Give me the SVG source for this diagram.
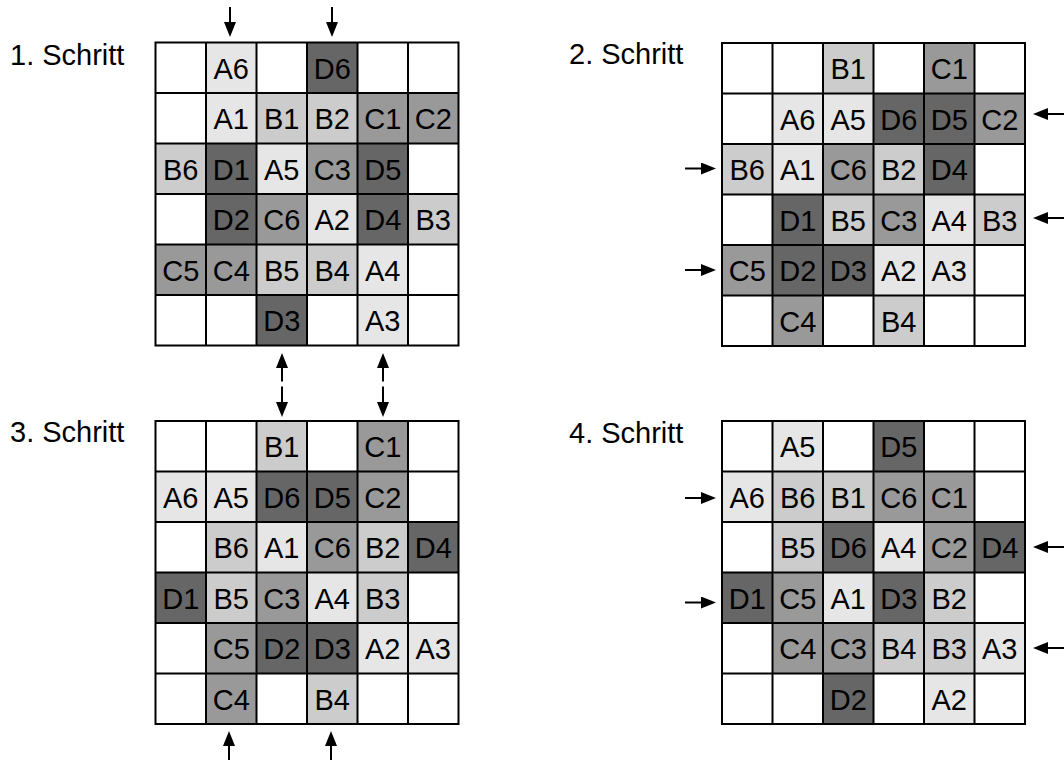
<svg xmlns="http://www.w3.org/2000/svg" xmlns:xlink="http://www.w3.org/1999/xlink" width="1064" height="760" viewBox="0 0 1064 760">
<defs>
<style>
.a{fill:#e6e6e6}.b{fill:#cccccc}.c{fill:#999999}.d{fill:#666666}
text{font-family:"Liberation Sans",Arial,sans-serif;font-size:29px;fill:#000}
.t{text-anchor:middle}
.ln{stroke:#000;stroke-width:2;fill:none}
.ar{stroke:#000;stroke-width:2;fill:none}
.dash{stroke-dasharray:13.5 5 40}
</style>
<marker id="ah" viewBox="0 0 15 12" refX="0" refY="6" markerWidth="15" markerHeight="12" markerUnits="userSpaceOnUse" orient="auto-start-reverse"><path d="M0,0 L15,6 L0,12 z" fill="#000"/></marker>
<path id="grid" class="ln" d="M0,0H303V303H0Z M50.5,0V303 M101,0V303 M151.5,0V303 M202,0V303 M252.5,0V303 M0,50.5H303 M0,101H303 M0,151.5H303 M0,202H303 M0,252.5H303"/>
</defs>
<rect width="1064" height="760" fill="#fff"/>

<g id="labels">
<text x="10" y="65">1. Schritt</text>
<text x="569" y="64">2. Schritt</text>
<text x="10" y="442">3. Schritt</text>
<text x="569" y="443">4. Schritt</text>
</g>

<g id="step1" transform="translate(155.5,42.5)">
<g id="s1-A6"><rect class="a" x="50.5" y="0" width="50.5" height="50.5"/><text class="t" x="75.75" y="36">A6</text></g>
<g id="s1-D6"><rect class="d" x="151.5" y="0" width="50.5" height="50.5"/><text class="t" x="176.75" y="36">D6</text></g>
<g id="s1-A1"><rect class="a" x="50.5" y="50.5" width="50.5" height="50.5"/><text class="t" x="75.75" y="86.5">A1</text></g>
<g id="s1-B1"><rect class="b" x="101" y="50.5" width="50.5" height="50.5"/><text class="t" x="126.25" y="86.5">B1</text></g>
<g id="s1-B2"><rect class="b" x="151.5" y="50.5" width="50.5" height="50.5"/><text class="t" x="176.75" y="86.5">B2</text></g>
<g id="s1-C1"><rect class="c" x="202" y="50.5" width="50.5" height="50.5"/><text class="t" x="227.25" y="86.5">C1</text></g>
<g id="s1-C2"><rect class="c" x="252.5" y="50.5" width="50.5" height="50.5"/><text class="t" x="277.75" y="86.5">C2</text></g>
<g id="s1-B6"><rect class="b" x="0" y="101" width="50.5" height="50.5"/><text class="t" x="25.25" y="137">B6</text></g>
<g id="s1-D1"><rect class="d" x="50.5" y="101" width="50.5" height="50.5"/><text class="t" x="75.75" y="137">D1</text></g>
<g id="s1-A5"><rect class="a" x="101" y="101" width="50.5" height="50.5"/><text class="t" x="126.25" y="137">A5</text></g>
<g id="s1-C3"><rect class="c" x="151.5" y="101" width="50.5" height="50.5"/><text class="t" x="176.75" y="137">C3</text></g>
<g id="s1-D5"><rect class="d" x="202" y="101" width="50.5" height="50.5"/><text class="t" x="227.25" y="137">D5</text></g>
<g id="s1-D2"><rect class="d" x="50.5" y="151.5" width="50.5" height="50.5"/><text class="t" x="75.75" y="187.5">D2</text></g>
<g id="s1-C6"><rect class="c" x="101" y="151.5" width="50.5" height="50.5"/><text class="t" x="126.25" y="187.5">C6</text></g>
<g id="s1-A2"><rect class="a" x="151.5" y="151.5" width="50.5" height="50.5"/><text class="t" x="176.75" y="187.5">A2</text></g>
<g id="s1-D4"><rect class="d" x="202" y="151.5" width="50.5" height="50.5"/><text class="t" x="227.25" y="187.5">D4</text></g>
<g id="s1-B3"><rect class="b" x="252.5" y="151.5" width="50.5" height="50.5"/><text class="t" x="277.75" y="187.5">B3</text></g>
<g id="s1-C5"><rect class="c" x="0" y="202" width="50.5" height="50.5"/><text class="t" x="25.25" y="238">C5</text></g>
<g id="s1-C4"><rect class="c" x="50.5" y="202" width="50.5" height="50.5"/><text class="t" x="75.75" y="238">C4</text></g>
<g id="s1-B5"><rect class="b" x="101" y="202" width="50.5" height="50.5"/><text class="t" x="126.25" y="238">B5</text></g>
<g id="s1-B4"><rect class="b" x="151.5" y="202" width="50.5" height="50.5"/><text class="t" x="176.75" y="238">B4</text></g>
<g id="s1-A4"><rect class="a" x="202" y="202" width="50.5" height="50.5"/><text class="t" x="227.25" y="238">A4</text></g>
<g id="s1-D3"><rect class="d" x="101" y="252.5" width="50.5" height="50.5"/><text class="t" x="126.25" y="288.5">D3</text></g>
<g id="s1-A3"><rect class="a" x="202" y="252.5" width="50.5" height="50.5"/><text class="t" x="227.25" y="288.5">A3</text></g>
<use xlink:href="#grid" href="#grid"/>
</g>

<g id="step2" transform="translate(722,43)">
<g id="s2-B1"><rect class="b" x="101" y="0" width="50.5" height="50.5"/><text class="t" x="126.25" y="36">B1</text></g>
<g id="s2-C1"><rect class="c" x="202" y="0" width="50.5" height="50.5"/><text class="t" x="227.25" y="36">C1</text></g>
<g id="s2-A6"><rect class="a" x="50.5" y="50.5" width="50.5" height="50.5"/><text class="t" x="75.75" y="86.5">A6</text></g>
<g id="s2-A5"><rect class="a" x="101" y="50.5" width="50.5" height="50.5"/><text class="t" x="126.25" y="86.5">A5</text></g>
<g id="s2-D6"><rect class="d" x="151.5" y="50.5" width="50.5" height="50.5"/><text class="t" x="176.75" y="86.5">D6</text></g>
<g id="s2-D5"><rect class="d" x="202" y="50.5" width="50.5" height="50.5"/><text class="t" x="227.25" y="86.5">D5</text></g>
<g id="s2-C2"><rect class="c" x="252.5" y="50.5" width="50.5" height="50.5"/><text class="t" x="277.75" y="86.5">C2</text></g>
<g id="s2-B6"><rect class="b" x="0" y="101" width="50.5" height="50.5"/><text class="t" x="25.25" y="137">B6</text></g>
<g id="s2-A1"><rect class="a" x="50.5" y="101" width="50.5" height="50.5"/><text class="t" x="75.75" y="137">A1</text></g>
<g id="s2-C6"><rect class="c" x="101" y="101" width="50.5" height="50.5"/><text class="t" x="126.25" y="137">C6</text></g>
<g id="s2-B2"><rect class="b" x="151.5" y="101" width="50.5" height="50.5"/><text class="t" x="176.75" y="137">B2</text></g>
<g id="s2-D4"><rect class="d" x="202" y="101" width="50.5" height="50.5"/><text class="t" x="227.25" y="137">D4</text></g>
<g id="s2-D1"><rect class="d" x="50.5" y="151.5" width="50.5" height="50.5"/><text class="t" x="75.75" y="187.5">D1</text></g>
<g id="s2-B5"><rect class="b" x="101" y="151.5" width="50.5" height="50.5"/><text class="t" x="126.25" y="187.5">B5</text></g>
<g id="s2-C3"><rect class="c" x="151.5" y="151.5" width="50.5" height="50.5"/><text class="t" x="176.75" y="187.5">C3</text></g>
<g id="s2-A4"><rect class="a" x="202" y="151.5" width="50.5" height="50.5"/><text class="t" x="227.25" y="187.5">A4</text></g>
<g id="s2-B3"><rect class="b" x="252.5" y="151.5" width="50.5" height="50.5"/><text class="t" x="277.75" y="187.5">B3</text></g>
<g id="s2-C5"><rect class="c" x="0" y="202" width="50.5" height="50.5"/><text class="t" x="25.25" y="238">C5</text></g>
<g id="s2-D2"><rect class="d" x="50.5" y="202" width="50.5" height="50.5"/><text class="t" x="75.75" y="238">D2</text></g>
<g id="s2-D3"><rect class="d" x="101" y="202" width="50.5" height="50.5"/><text class="t" x="126.25" y="238">D3</text></g>
<g id="s2-A2"><rect class="a" x="151.5" y="202" width="50.5" height="50.5"/><text class="t" x="176.75" y="238">A2</text></g>
<g id="s2-A3"><rect class="a" x="202" y="202" width="50.5" height="50.5"/><text class="t" x="227.25" y="238">A3</text></g>
<g id="s2-C4"><rect class="c" x="50.5" y="252.5" width="50.5" height="50.5"/><text class="t" x="75.75" y="288.5">C4</text></g>
<g id="s2-B4"><rect class="b" x="151.5" y="252.5" width="50.5" height="50.5"/><text class="t" x="176.75" y="288.5">B4</text></g>
<use xlink:href="#grid" href="#grid"/>
</g>

<g id="step3" transform="translate(155.5,421)">
<g id="s3-B1"><rect class="b" x="101" y="0" width="50.5" height="50.5"/><text class="t" x="126.25" y="36">B1</text></g>
<g id="s3-C1"><rect class="c" x="202" y="0" width="50.5" height="50.5"/><text class="t" x="227.25" y="36">C1</text></g>
<g id="s3-A6"><rect class="a" x="0" y="50.5" width="50.5" height="50.5"/><text class="t" x="25.25" y="86.5">A6</text></g>
<g id="s3-A5"><rect class="a" x="50.5" y="50.5" width="50.5" height="50.5"/><text class="t" x="75.75" y="86.5">A5</text></g>
<g id="s3-D6"><rect class="d" x="101" y="50.5" width="50.5" height="50.5"/><text class="t" x="126.25" y="86.5">D6</text></g>
<g id="s3-D5"><rect class="d" x="151.5" y="50.5" width="50.5" height="50.5"/><text class="t" x="176.75" y="86.5">D5</text></g>
<g id="s3-C2"><rect class="c" x="202" y="50.5" width="50.5" height="50.5"/><text class="t" x="227.25" y="86.5">C2</text></g>
<g id="s3-B6"><rect class="b" x="50.5" y="101" width="50.5" height="50.5"/><text class="t" x="75.75" y="137">B6</text></g>
<g id="s3-A1"><rect class="a" x="101" y="101" width="50.5" height="50.5"/><text class="t" x="126.25" y="137">A1</text></g>
<g id="s3-C6"><rect class="c" x="151.5" y="101" width="50.5" height="50.5"/><text class="t" x="176.75" y="137">C6</text></g>
<g id="s3-B2"><rect class="b" x="202" y="101" width="50.5" height="50.5"/><text class="t" x="227.25" y="137">B2</text></g>
<g id="s3-D4"><rect class="d" x="252.5" y="101" width="50.5" height="50.5"/><text class="t" x="277.75" y="137">D4</text></g>
<g id="s3-D1"><rect class="d" x="0" y="151.5" width="50.5" height="50.5"/><text class="t" x="25.25" y="187.5">D1</text></g>
<g id="s3-B5"><rect class="b" x="50.5" y="151.5" width="50.5" height="50.5"/><text class="t" x="75.75" y="187.5">B5</text></g>
<g id="s3-C3"><rect class="c" x="101" y="151.5" width="50.5" height="50.5"/><text class="t" x="126.25" y="187.5">C3</text></g>
<g id="s3-A4"><rect class="a" x="151.5" y="151.5" width="50.5" height="50.5"/><text class="t" x="176.75" y="187.5">A4</text></g>
<g id="s3-B3"><rect class="b" x="202" y="151.5" width="50.5" height="50.5"/><text class="t" x="227.25" y="187.5">B3</text></g>
<g id="s3-C5"><rect class="c" x="50.5" y="202" width="50.5" height="50.5"/><text class="t" x="75.75" y="238">C5</text></g>
<g id="s3-D2"><rect class="d" x="101" y="202" width="50.5" height="50.5"/><text class="t" x="126.25" y="238">D2</text></g>
<g id="s3-D3"><rect class="d" x="151.5" y="202" width="50.5" height="50.5"/><text class="t" x="176.75" y="238">D3</text></g>
<g id="s3-A2"><rect class="a" x="202" y="202" width="50.5" height="50.5"/><text class="t" x="227.25" y="238">A2</text></g>
<g id="s3-A3"><rect class="a" x="252.5" y="202" width="50.5" height="50.5"/><text class="t" x="277.75" y="238">A3</text></g>
<g id="s3-C4"><rect class="c" x="50.5" y="252.5" width="50.5" height="50.5"/><text class="t" x="75.75" y="288.5">C4</text></g>
<g id="s3-B4"><rect class="b" x="151.5" y="252.5" width="50.5" height="50.5"/><text class="t" x="176.75" y="288.5">B4</text></g>
<use xlink:href="#grid" href="#grid"/>
</g>

<g id="step4" transform="translate(722,421)">
<g id="s4-A5"><rect class="a" x="50.5" y="0" width="50.5" height="50.5"/><text class="t" x="75.75" y="36">A5</text></g>
<g id="s4-D5"><rect class="d" x="151.5" y="0" width="50.5" height="50.5"/><text class="t" x="176.75" y="36">D5</text></g>
<g id="s4-A6"><rect class="a" x="0" y="50.5" width="50.5" height="50.5"/><text class="t" x="25.25" y="86.5">A6</text></g>
<g id="s4-B6"><rect class="b" x="50.5" y="50.5" width="50.5" height="50.5"/><text class="t" x="75.75" y="86.5">B6</text></g>
<g id="s4-B1"><rect class="b" x="101" y="50.5" width="50.5" height="50.5"/><text class="t" x="126.25" y="86.5">B1</text></g>
<g id="s4-C6"><rect class="c" x="151.5" y="50.5" width="50.5" height="50.5"/><text class="t" x="176.75" y="86.5">C6</text></g>
<g id="s4-C1"><rect class="c" x="202" y="50.5" width="50.5" height="50.5"/><text class="t" x="227.25" y="86.5">C1</text></g>
<g id="s4-B5"><rect class="b" x="50.5" y="101" width="50.5" height="50.5"/><text class="t" x="75.75" y="137">B5</text></g>
<g id="s4-D6"><rect class="d" x="101" y="101" width="50.5" height="50.5"/><text class="t" x="126.25" y="137">D6</text></g>
<g id="s4-A4"><rect class="a" x="151.5" y="101" width="50.5" height="50.5"/><text class="t" x="176.75" y="137">A4</text></g>
<g id="s4-C2"><rect class="c" x="202" y="101" width="50.5" height="50.5"/><text class="t" x="227.25" y="137">C2</text></g>
<g id="s4-D4"><rect class="d" x="252.5" y="101" width="50.5" height="50.5"/><text class="t" x="277.75" y="137">D4</text></g>
<g id="s4-D1"><rect class="d" x="0" y="151.5" width="50.5" height="50.5"/><text class="t" x="25.25" y="187.5">D1</text></g>
<g id="s4-C5"><rect class="c" x="50.5" y="151.5" width="50.5" height="50.5"/><text class="t" x="75.75" y="187.5">C5</text></g>
<g id="s4-A1"><rect class="a" x="101" y="151.5" width="50.5" height="50.5"/><text class="t" x="126.25" y="187.5">A1</text></g>
<g id="s4-D3"><rect class="d" x="151.5" y="151.5" width="50.5" height="50.5"/><text class="t" x="176.75" y="187.5">D3</text></g>
<g id="s4-B2"><rect class="b" x="202" y="151.5" width="50.5" height="50.5"/><text class="t" x="227.25" y="187.5">B2</text></g>
<g id="s4-C4"><rect class="c" x="50.5" y="202" width="50.5" height="50.5"/><text class="t" x="75.75" y="238">C4</text></g>
<g id="s4-C3"><rect class="c" x="101" y="202" width="50.5" height="50.5"/><text class="t" x="126.25" y="238">C3</text></g>
<g id="s4-B4"><rect class="b" x="151.5" y="202" width="50.5" height="50.5"/><text class="t" x="176.75" y="238">B4</text></g>
<g id="s4-B3"><rect class="b" x="202" y="202" width="50.5" height="50.5"/><text class="t" x="227.25" y="238">B3</text></g>
<g id="s4-A3"><rect class="a" x="252.5" y="202" width="50.5" height="50.5"/><text class="t" x="277.75" y="238">A3</text></g>
<g id="s4-D2"><rect class="d" x="101" y="252.5" width="50.5" height="50.5"/><text class="t" x="126.25" y="288.5">D2</text></g>
<g id="s4-A2"><rect class="a" x="202" y="252.5" width="50.5" height="50.5"/><text class="t" x="227.25" y="288.5">A2</text></g>
<use xlink:href="#grid" href="#grid"/>
</g>

<g id="connectors">
<line class="ar" x1="230" y1="7" x2="230" y2="22" marker-end="url(#ah)"/>
<line class="ar" x1="332" y1="7" x2="332" y2="22" marker-end="url(#ah)"/>
<line class="ar dash" x1="282" y1="368" x2="282" y2="402" marker-start="url(#ah)" marker-end="url(#ah)"/>
<line class="ar dash" x1="383" y1="368" x2="383" y2="402" marker-start="url(#ah)" marker-end="url(#ah)"/>
<line class="ar" x1="229" y1="760" x2="229" y2="746" marker-end="url(#ah)"/>
<line class="ar" x1="331" y1="760" x2="331" y2="746" marker-end="url(#ah)"/>
<line class="ar" x1="1066" y1="114" x2="1048" y2="114" marker-end="url(#ah)"/>
<line class="ar" x1="685" y1="168.5" x2="701" y2="168.5" marker-end="url(#ah)"/>
<line class="ar" x1="1066" y1="218" x2="1048" y2="218" marker-end="url(#ah)"/>
<line class="ar" x1="685" y1="270" x2="701" y2="270" marker-end="url(#ah)"/>
<line class="ar" x1="685" y1="498" x2="701" y2="498" marker-end="url(#ah)"/>
<line class="ar" x1="1066" y1="547" x2="1048" y2="547" marker-end="url(#ah)"/>
<line class="ar" x1="685" y1="602.5" x2="701" y2="602.5" marker-end="url(#ah)"/>
<line class="ar" x1="1066" y1="648" x2="1048" y2="648" marker-end="url(#ah)"/>
</g>
</svg>
